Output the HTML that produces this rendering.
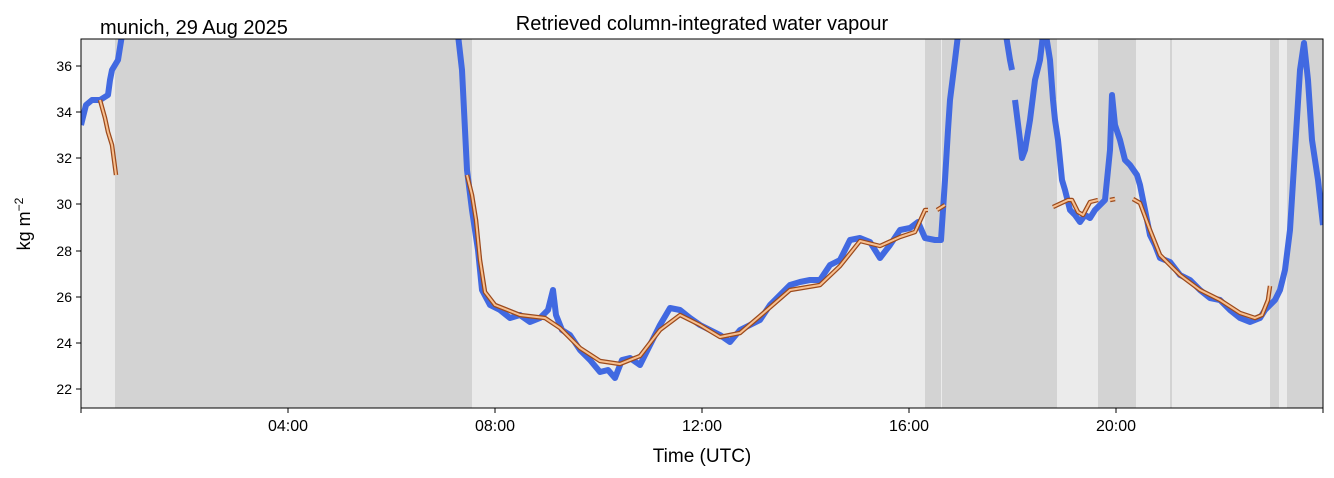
<!DOCTYPE html><html><head><style>body{margin:0;background:#fff}svg{display:block;font-family:"Liberation Sans",sans-serif}</style></head><body>
<svg width="1334" height="478" viewBox="0 0 1334 478">
<rect x="81" y="39" width="1242" height="369" fill="#ebebeb"/>
<g fill="#d3d3d3">
<rect x="115" y="39" width="357" height="369"/>
<rect x="925" y="39" width="16" height="369"/>
<rect x="942" y="39" width="115" height="369"/>
<rect x="1098" y="39" width="38" height="369"/>
<rect x="1170" y="39" width="2" height="369"/>
<rect x="1270" y="39" width="9" height="369"/>
<rect x="1287" y="39" width="36" height="369"/>
</g>
<clipPath id="c"><rect x="81" y="39" width="1242" height="369"/></clipPath>
<g clip-path="url(#c)" fill="none" stroke-linejoin="round">
<g stroke="#4169e1" stroke-width="6">
<polyline points="81,125 86,105 92,100 100,100 108,95 110,80 112,70 118,60 122,35"/>
<polyline points="458,35 462,70 465,130 467,170 472,210 478,250 482,290 490,305 500,310 510,318 520,315 530,322 540,318 548,310 553,290 556,315 562,330 570,335 580,350 590,360 600,372 608,370 615,378 622,360 630,358 640,365 650,345 660,325 670,308 680,310 690,318 700,325 710,330 720,335 730,342 740,330 750,325 760,320 770,305 780,295 790,285 800,282 810,280 820,280 830,265 840,260 850,240 860,238 870,242 880,258 890,245 900,230 910,228 918,222 925,238 935,240 941,240 945,180 948,130 950,100 955,60 958,35"/>
<polyline points="1006,35 1010,60 1012,70"/>
<polyline points="1015,100 1020,140 1022,158 1025,150 1030,120 1035,80 1040,60 1043,35"/>
<polyline points="1046,35 1050,60 1053,100 1055,120 1058,140 1062,180 1065,190 1070,210 1075,215 1080,222 1085,215 1090,218 1095,210 1100,205 1105,200 1110,150 1112,95 1115,125 1120,140 1125,160 1130,165 1137,175 1140,185 1145,210 1150,235 1155,245 1160,258 1170,262 1180,275 1190,280 1200,290 1210,298 1220,300 1230,310 1240,318 1250,322 1260,318 1265,310 1270,305 1275,300 1280,290 1285,270 1290,230 1295,150 1300,70 1304,43 1308,80 1312,140 1318,180 1323,225"/>
</g>
<g stroke="#9c4a1c" stroke-width="4.5">
<polyline id="o1" points="100,100 105,118 108,132 112,145 116,175"/>
<polyline id="o2" points="467,175 472,195 476,220 480,260 485,292 495,305 520,315 545,318 560,328 580,348 600,361 620,364 640,356 660,330 680,315 700,325 720,337 740,333 760,316 790,290 820,285 840,266 860,241 880,246 900,237 915,232 925,210 928,210"/>
<polyline id="o3" points="937,210 945,205"/>
<polyline id="o4" points="1053,207 1068,200 1072,200 1078,212 1083,215 1090,202 1098,200"/>
<polyline id="o5" points="1110,200 1115,199"/>
<polyline id="o6" points="1133,199 1140,203 1150,230 1160,255 1180,275 1200,290 1220,300 1240,313 1255,318 1262,315 1268,300 1270,286"/>
</g>
<g stroke="#f8c090" stroke-width="2">
<use href="#o1"/><use href="#o2"/><use href="#o3"/><use href="#o4"/><use href="#o5"/><use href="#o6"/>
</g>
</g>
<rect x="81" y="39" width="1242" height="369" fill="none" stroke="#000" stroke-width="1"/>
<g stroke="#000" stroke-width="1">
<line x1="76" y1="389" x2="81" y2="389"/><line x1="76" y1="343" x2="81" y2="343"/><line x1="76" y1="297" x2="81" y2="297"/><line x1="76" y1="251" x2="81" y2="251"/><line x1="76" y1="204" x2="81" y2="204"/><line x1="76" y1="158" x2="81" y2="158"/><line x1="76" y1="112" x2="81" y2="112"/><line x1="76" y1="66" x2="81" y2="66"/>
<line x1="81" y1="408" x2="81" y2="413"/><line x1="288" y1="408" x2="288" y2="413"/><line x1="495" y1="408" x2="495" y2="413"/><line x1="702" y1="408" x2="702" y2="413"/><line x1="909" y1="408" x2="909" y2="413"/><line x1="1116" y1="408" x2="1116" y2="413"/><line x1="1323" y1="408" x2="1323" y2="413"/>
</g>
<g font-size="14" text-anchor="end">
<text x="72" y="394">22</text><text x="72" y="348">24</text><text x="72" y="302">26</text><text x="72" y="256">28</text><text x="72" y="209">30</text><text x="72" y="163">32</text><text x="72" y="117">34</text><text x="72" y="71">36</text>
</g>
<g font-size="16" text-anchor="middle">
<text x="288" y="431">04:00</text><text x="495" y="431">08:00</text><text x="702" y="431">12:00</text><text x="909" y="431">16:00</text><text x="1116" y="431">20:00</text>
<text x="702" y="462" font-size="19">Time (UTC)</text>
<text x="702" y="30" font-size="20">Retrieved column-integrated water vapour</text>
</g>
<text x="100" y="34" font-size="20">munich, 29 Aug 2025</text>
<text transform="translate(30,224) rotate(-90)" font-size="18" text-anchor="middle">kg m<tspan dy="-7" font-size="12">−2</tspan></text>
</svg></body></html>
